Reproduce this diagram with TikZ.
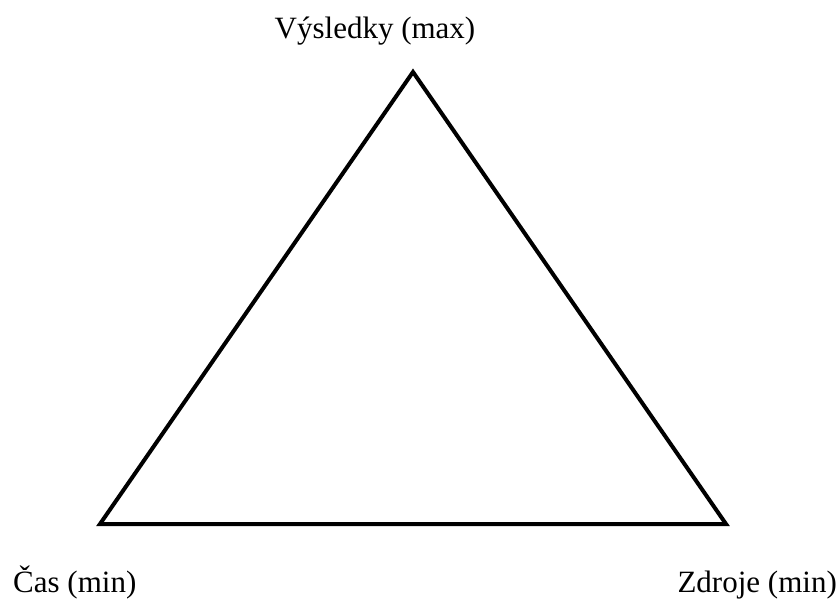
\documentclass[tikz,border=0pt]{standalone}
\usepackage{fontspec}
\setmainfont{Liberation Serif}
\begin{document}
\begin{tikzpicture}[x=1pt,y=-1pt,
  vertexlabel/.style={font=\fontsize{31}{36}\selectfont,inner sep=0pt}]
  \useasboundingbox (0,0) rectangle (840,599);
  \coordinate (top) at (413,72);
  \coordinate (left) at (100,524);
  \coordinate (right) at (726,524);
  \draw[line width=4pt,line join=miter] (left) -- (top) -- (right) -- cycle;
  \node[vertexlabel,anchor=base] (vysledky) at (375,39) {Výsledky (max)};
  \node[vertexlabel,anchor=base west] (cas) at (13,592) {Čas (min)};
  \node[vertexlabel,anchor=base east] (zdroje) at (837,592) {Zdroje (min)};
\end{tikzpicture}
\end{document}
